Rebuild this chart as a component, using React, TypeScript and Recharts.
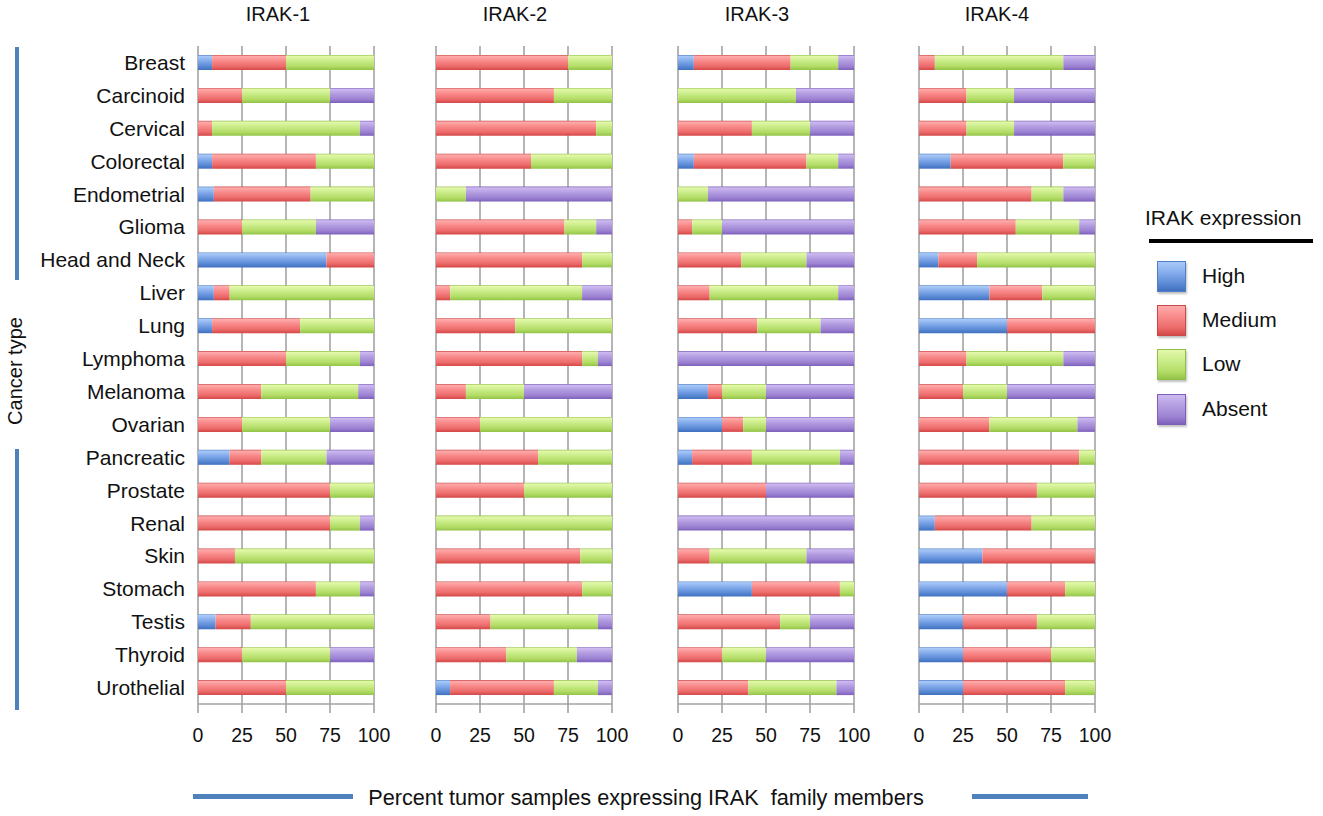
import React from 'react';
import { BarChart, Bar, XAxis, YAxis, CartesianGrid } from 'recharts';

// ---------- data ----------
const categories = [
  'Breast', 'Carcinoid', 'Cervical', 'Colorectal', 'Endometrial', 'Glioma', 'Head and Neck',
  'Liver', 'Lung', 'Lymphoma', 'Melanoma', 'Ovarian', 'Pancreatic', 'Prostate', 'Renal',
  'Skin', 'Stomach', 'Testis', 'Thyroid', 'Urothelial',
];
const tickValues = [0, 25, 50, 75, 100];
const seriesNames = ['High', 'Medium', 'Low', 'Absent'];
const panelTitles = ['IRAK-1', 'IRAK-2', 'IRAK-3', 'IRAK-4'];

const irak1High = [8, 0, 0, 8, 9, 0, 73, 9, 8, 0, 0, 0, 18, 0, 0, 0, 0, 10, 0, 0];
const irak1Medium = [42, 25, 8, 59, 55, 25, 27, 9, 50, 50, 36, 25, 18, 75, 75, 21, 67, 20, 25, 50];
const irak1Low = [50, 50, 84, 33, 36, 42, 0, 82, 42, 42, 55, 50, 37, 25, 17, 79, 25, 70, 50, 50];
const irak1Absent = [0, 25, 8, 0, 0, 33, 0, 0, 0, 8, 9, 25, 27, 0, 8, 0, 8, 0, 25, 0];

const irak2High = [0, 0, 0, 0, 0, 0, 0, 0, 0, 0, 0, 0, 0, 0, 0, 0, 0, 0, 0, 8];
const irak2Medium = [75, 67, 91, 54, 0, 73, 83, 8, 45, 83, 17, 25, 58, 50, 0, 82, 83, 31, 40, 59];
const irak2Low = [25, 33, 9, 46, 17, 18, 17, 75, 55, 9, 33, 75, 42, 50, 100, 18, 17, 61, 40, 25];
const irak2Absent = [0, 0, 0, 0, 83, 9, 0, 17, 0, 8, 50, 0, 0, 0, 0, 0, 0, 8, 20, 8];

const irak3High = [9, 0, 0, 9, 0, 0, 0, 0, 0, 0, 17, 25, 8, 0, 0, 0, 42, 0, 0, 0];
const irak3Medium = [55, 0, 42, 64, 0, 8, 36, 18, 45, 0, 8, 12, 34, 50, 0, 18, 50, 58, 25, 40];
const irak3Low = [27, 67, 33, 18, 17, 17, 37, 73, 36, 0, 25, 13, 50, 0, 0, 55, 8, 17, 25, 50];
const irak3Absent = [9, 33, 25, 9, 83, 75, 27, 9, 19, 100, 50, 50, 8, 50, 100, 27, 0, 25, 50, 10];

const irak4High = [0, 0, 0, 18, 0, 0, 11, 40, 50, 0, 0, 0, 0, 0, 9, 36, 50, 25, 25, 25];
const irak4Medium = [9, 27, 27, 64, 64, 55, 22, 30, 50, 27, 25, 40, 91, 67, 55, 64, 33, 42, 50, 58];
const irak4Low = [73, 27, 27, 18, 18, 36, 67, 30, 0, 55, 25, 50, 9, 33, 36, 0, 17, 33, 25, 17];
const irak4Absent = [18, 46, 46, 0, 18, 9, 0, 0, 0, 18, 50, 10, 0, 0, 0, 0, 0, 0, 0, 0];

const panelSeries = [
  [irak1High, irak1Medium, irak1Low, irak1Absent],
  [irak2High, irak2Medium, irak2Low, irak2Absent],
  [irak3High, irak3Medium, irak3Low, irak3Absent],
  [irak4High, irak4Medium, irak4Low, irak4Absent],
];

// ---------- styling ----------
const FONT = '"Liberation Sans", Arial, Helvetica, sans-serif';
const seriesKeys = ['high', 'medium', 'low', 'absent'];
const gradients = [
  { id: 'gHigh', stops: ['#4f7fc6', '#a9c9f7', '#82aaeb', '#5b8ad5', '#3f70bf'] },
  { id: 'gMedium', stops: ['#c94848', '#ffabab', '#f88888', '#ec6b6b', '#d44747'] },
  { id: 'gLow', stops: ['#8fbf48', '#e4f8aa', '#c9ec88', '#b3dc66', '#92c348'] },
  { id: 'gAbsent', stops: ['#7b5fb8', '#cdbaf0', '#b29ce0', '#9c82d2', '#7d60bb'] },
];
const cssGradient = (s: string[]) =>
  `linear-gradient(to bottom, ${s[1]} 0%, ${s[2]} 40%, ${s[3]} 75%, ${s[4]} 100%)`;

const PLOT_LEFT = [198, 435.5, 677.5, 918.5];
const PLOT_W = 176;
const PLOT_TOP = 46;
const CHART_H = 760;
const XAXIS_H = 56;
const TITLE_CX = [278, 515, 757, 997];
const GRID = '#a3a3a3';

function buildRows(series: number[][]) {
  return categories.map((name, i) => {
    const row: Record<string, string | number> = { name };
    seriesKeys.forEach((k, s) => {
      row[k] = series[s][i];
    });
    return row;
  });
}

function Panel({ index }: { index: number }) {
  const rows = buildRows(panelSeries[index]);
  const first = index === 0;
  const leftMargin = first ? 0 : 20;
  const yW = first ? PLOT_LEFT[0] : 0;
  const width = first ? PLOT_LEFT[0] + PLOT_W + 20 : PLOT_W + 40;
  const left = first ? 0 : PLOT_LEFT[index] - 20;
  return (
    <div style={{ position: 'absolute', left, top: 0 }}>
      <BarChart
        width={width}
        height={CHART_H}
        data={rows}
        layout="vertical"
        margin={{ top: PLOT_TOP, right: 20, bottom: 0, left: leftMargin }}
        barCategoryGap={0}
      >
        <CartesianGrid horizontal={false} stroke={GRID} strokeWidth={1.6} />
        <XAxis
          type="number"
          domain={[0, 100]}
          ticks={tickValues}
          interval={0}
          height={XAXIS_H}
          tickSize={9}
          tickMargin={15}
          axisLine={{ stroke: GRID, strokeWidth: 1.6 }}
          tickLine={{ stroke: GRID, strokeWidth: 1.6 }}
          tick={{ fill: '#111', fontSize: 19.5, fontFamily: FONT }}
        />
        <YAxis
          type="category"
          dataKey="name"
          width={yW}
          hide={!first}
          interval={0}
          tickSize={8}
          tickMargin={5}
          tickLine={false}
          axisLine={false}
          tick={{ fill: '#111', fontSize: 21, fontFamily: FONT }}
        />
        {seriesKeys.map((k, s) => (
          <Bar
            key={k}
            dataKey={k}
            name={seriesNames[s]}
            stackId="stack"
            barSize={15}
            fill={`url(#${gradients[s].id})`}
            isAnimationActive={false}
          />
        ))}
      </BarChart>
    </div>
  );
}

export default function App() {
  return (
    <div
      style={{
        position: 'absolute',
        left: 0,
        top: 0,
        width: 1323,
        height: 816,
        background: '#fff',
        fontFamily: FONT,
        color: '#111',
        overflow: 'hidden',
      }}
    >
      <svg width={0} height={0} style={{ position: 'absolute' }}>
        <defs>
          {gradients.map((g) => (
            <linearGradient key={g.id} id={g.id} x1="0" y1="0" x2="0" y2="1">
              <stop offset="0%" stopColor={g.stops[0]} />
              <stop offset="8%" stopColor={g.stops[1]} />
              <stop offset="40%" stopColor={g.stops[2]} />
              <stop offset="75%" stopColor={g.stops[3]} />
              <stop offset="100%" stopColor={g.stops[4]} />
            </linearGradient>
          ))}
        </defs>
      </svg>

      {panelTitles.map((t, i) => (
        <div
          key={t}
          style={{
            position: 'absolute',
            left: TITLE_CX[i] - 60,
            width: 120,
            top: 2,
            lineHeight: '24px',
            fontSize: 20,
            textAlign: 'center',
          }}
        >
          {t}
        </div>
      ))}

      {panelTitles.map((t, i) => (
        <Panel key={t} index={i} />
      ))}

      {/* y-axis title with decorative lines */}
      <div style={{ position: 'absolute', left: 15, top: 47, width: 4, height: 233, background: '#4f81bd' }} />
      <div style={{ position: 'absolute', left: 15, top: 449, width: 4, height: 261, background: '#4f81bd' }} />
      <div
        style={{
          position: 'absolute',
          left: 15 - 70,
          top: 371 - 12,
          width: 140,
          lineHeight: '24px',
          fontSize: 20,
          textAlign: 'center',
          transform: 'rotate(-90deg)',
        }}
      >
        Cancer type
      </div>

      {/* x-axis title with decorative lines */}
      <div style={{ position: 'absolute', left: 193, top: 794, width: 160, height: 5, background: '#4f81bd' }} />
      <div style={{ position: 'absolute', left: 972, top: 794, width: 116, height: 5, background: '#4f81bd' }} />
      <div
        style={{
          position: 'absolute',
          left: 646 - 300,
          width: 600,
          top: 786,
          lineHeight: '24px',
          fontSize: 21.7,
          textAlign: 'center',
          whiteSpace: 'pre',
        }}
      >
        {'Percent tumor samples expressing IRAK  family members'}
      </div>

      {/* legend */}
      <div style={{ position: 'absolute', left: 1145, top: 206, lineHeight: '24px', fontSize: 21, whiteSpace: 'nowrap' }}>
        IRAK expression
      </div>
      <div style={{ position: 'absolute', left: 1149, top: 239, width: 164, height: 4, background: '#000' }} />
      {seriesNames.map((n, s) => (
        <div key={n} style={{ position: 'absolute', left: 1157, top: 261 + s * 44.2, height: 30 }}>
          <div
            style={{
              position: 'absolute',
              left: 0,
              top: 0,
              width: 27,
              height: 29,
              background: cssGradient(gradients[s].stops),
              border: `1px solid ${gradients[s].stops[0]}`,
              boxShadow: '1px 2px 2px rgba(0,0,0,0.25)',
            }}
          />
          <div style={{ position: 'absolute', left: 45, top: 3, lineHeight: '24px', fontSize: 21, whiteSpace: 'nowrap' }}>
            {n}
          </div>
        </div>
      ))}
    </div>
  );
}
